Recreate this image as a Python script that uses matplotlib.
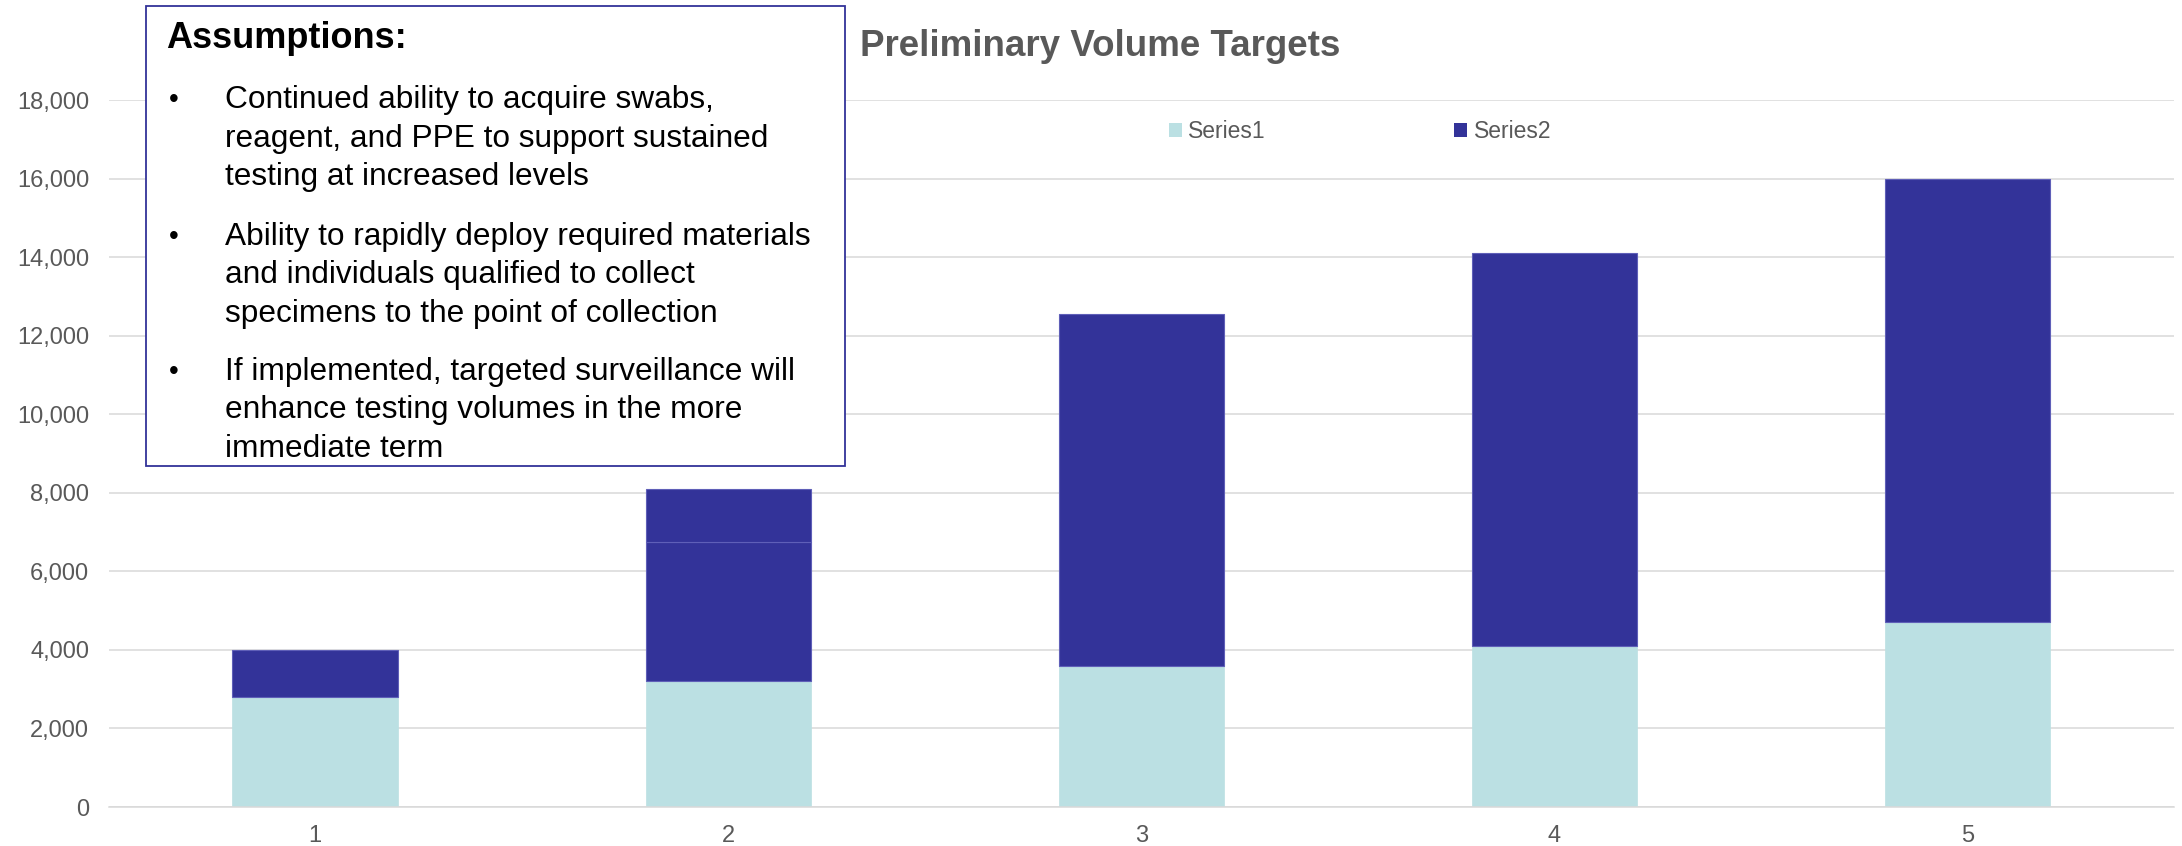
import matplotlib
matplotlib.use("Agg")
import numpy as np
import matplotlib.pyplot as plt
from matplotlib.patches import Patch, Rectangle
from matplotlib.ticker import FuncFormatter

plt.rcParams['font.family'] = ['Liberation Sans', 'DejaVu Sans']

# Chart data
categories = ['1', '2', '3', '4', '5']
series1 = [2800, 3200, 3600, 4100, 4700]
series2 = [1200, 3550, 8950, 10000, 11300]
series2_extra = [0, 1350, 0, 0, 0]   # second Series2 block on bar 2
y_ticks = [0, 2000, 4000, 6000, 8000, 10000, 12000, 14000, 16000, 18000]

title = "Preliminary Volume Targets"
box_title = "Assumptions:"
bullets = [
    ["Continued ability to acquire swabs,",
     "reagent, and PPE to support sustained",
     "testing at increased levels"],
    ["Ability to rapidly deploy required materials",
     "and individuals qualified to collect",
     "specimens to the point of collection"],
    ["If implemented, targeted surveillance will",
     "enhance testing volumes in the more",
     "immediate term"],
]

c1 = '#BBE0E3'
c2 = '#333399'
grey = '#595959'

W, H = 2182, 846
fig = plt.figure(figsize=(W / 100, H / 100), dpi=100)
ax = fig.add_axes([108.5 / W, 1 - 807 / H, (2174 - 108.5) / W, (807 - 100) / H])

x = np.arange(len(categories))
s1 = np.array(series1)
s2 = np.array(series2)
ax.bar(x, s1, width=0.4, color=c1, edgecolor=c1, linewidth=0.5, zorder=2)
ax.bar(x, s2, width=0.4, bottom=s1, color=c2, edgecolor='#5f5fb8', linewidth=0.8, zorder=2)
extra = np.array(series2_extra)
mask = extra > 0
ax.bar(x[mask], extra[mask], width=0.4, bottom=(s1 + s2)[mask], color=c2,
       edgecolor='#5f5fb8', linewidth=0.8, zorder=2)

ax.set_xlim(-0.5, len(categories) - 0.5)
ax.set_ylim(0, 18000)
ax.set_yticks(y_ticks)
ax.yaxis.set_major_formatter(FuncFormatter(lambda v, p: f"{int(v):,}"))
ax.set_xticks(x)
ax.set_xticklabels(categories)
ax.tick_params(axis='both', length=0, labelsize=17, colors=grey)
ax.tick_params(axis='y', pad=14)
ax.tick_params(axis='x', pad=13)
ax.grid(axis='y', color='#D9D9D9', linewidth=1.1)
ax.set_axisbelow(True)
for side in ['top', 'right', 'left']:
    ax.spines[side].set_visible(False)
ax.spines['bottom'].set_color('#D9D9D9')
ax.spines['bottom'].set_linewidth(1.1)

fig.text(1100 / W, 1 - 46 / H, title, ha='center', va='center',
         fontsize=26.5, fontweight='bold', color=grey)

handles = [Patch(facecolor=c1, edgecolor='none', label='Series1'),
           Patch(facecolor=c2, edgecolor='none', label='Series2')]
fig.legend(handles=handles, loc='center', bbox_to_anchor=(1360 / W, 1 - 132 / H),
           ncol=2, frameon=False, fontsize=16.5, handlelength=0.55, handleheight=0.55,
           handletextpad=0.3, columnspacing=8.2, labelcolor=grey)

# Assumptions box
fig.patches.append(Rectangle((146 / W, 1 - 466 / H), (845 - 146) / W, (466 - 6) / H,
                             transform=fig.transFigure, facecolor='white',
                             edgecolor='#333399', linewidth=1.3, zorder=5))
fig.text(166 / W, 1 - 39 / H, box_title, ha='left', va='center', fontsize=26,
         fontweight='bold', color='black', zorder=6)
starts = [100, 236.6, 371.6]
step = 38.5
for top, lines in zip(starts, bullets):
    fig.text(169 / W, 1 - top / H, "\u2022", ha='left', va='center', fontsize=20,
             color='black', zorder=6)
    for i, line in enumerate(lines):
        fig.text(225 / W, 1 - (top + i * step) / H, line, ha='left', va='center',
                 fontsize=22.8, color='black', zorder=6)

fig.savefig("out.png", dpi=100, facecolor='white')
